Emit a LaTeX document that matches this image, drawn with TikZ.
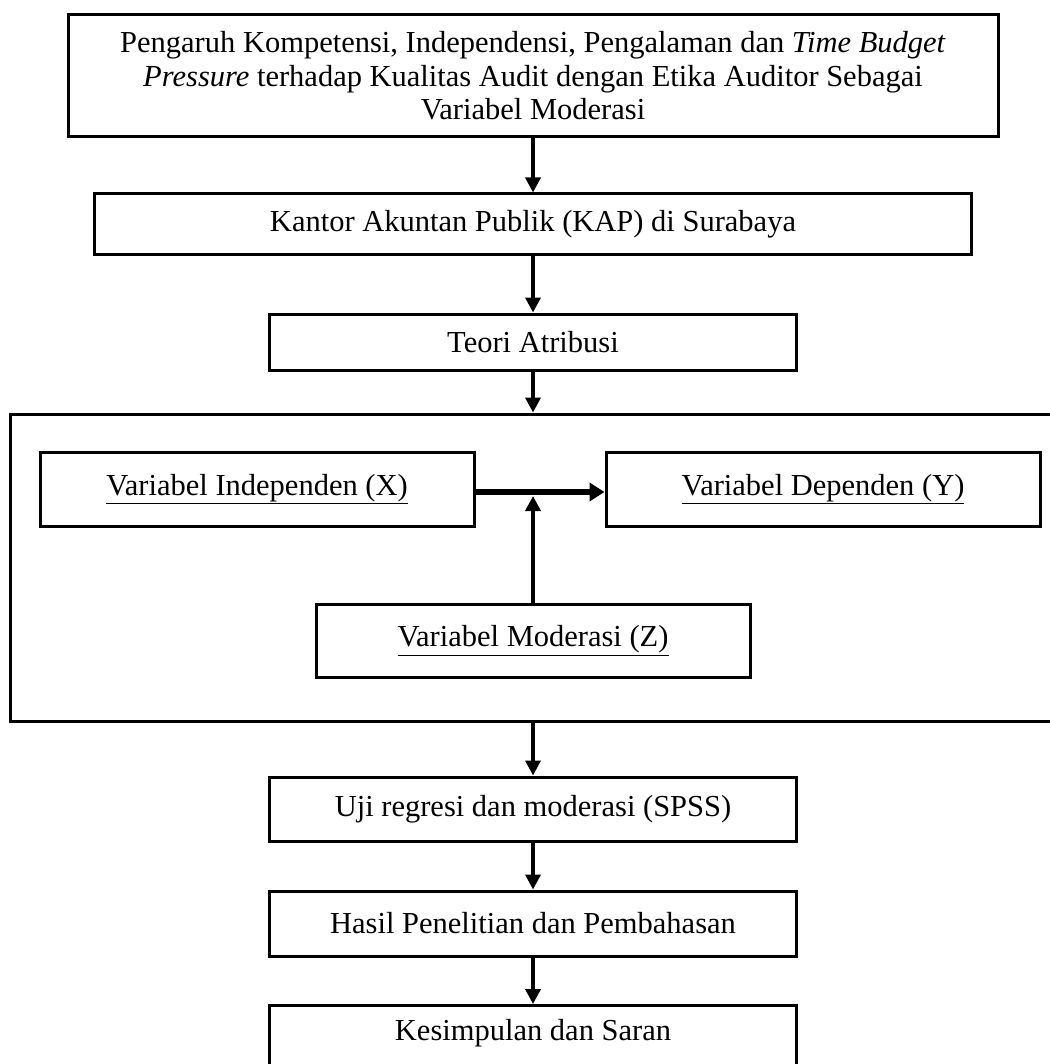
\documentclass[tikz,border=0pt]{standalone}
\usepackage{fontspec}
\setmainfont{Liberation Serif}
\usetikzlibrary{arrows.meta}
\begin{document}
\begin{tikzpicture}[x=1pt,y=-1pt,
  box/.style={draw, line width=3pt, rectangle, inner sep=0pt, align=center,
    font=\fontsize{30.5}{33.5}\selectfont},
  txt/.style={inner sep=0pt, align=center, font=\fontsize{30.5}{33.5}\selectfont},
  flow/.style={line width=3.5pt, -{Triangle[length=15pt,width=15pt]}},
  bigflow/.style={line width=5.5pt, -{Triangle[length=15pt,width=18pt]}},
]
\useasboundingbox (0,0) rectangle (1049,1064);

\node[box, minimum width=930pt, minimum height=122pt] (title) at (533,76)
  {Pengaruh Kompetensi, Independensi, Pengalaman dan \textit{Time Budget}\\
   \textit{Pressure} terhadap Kualitas Audit dengan Etika Auditor Sebagai\\
   Variabel Moderasi};
\node[box, minimum width=877pt, minimum height=61pt] (kap) at (533,224.5)
  {Kantor Akuntan Publik (KAP) di Surabaya};
\node[box, minimum width=527pt, minimum height=56pt] (teori) at (533,342)
  {Teori Atribusi};

\node[draw, line width=3pt, minimum width=1050pt, minimum height=307pt, inner sep=0pt] (frame) at (535,567.5) {};

\node[box, minimum width=434pt, minimum height=74pt] (X) at (257,489)
  {\underline{Variabel Independen (X)}};
\node[box, minimum width=434pt, minimum height=74pt] (Y) at (823,489)
  {\underline{Variabel Dependen (Y)}};
\node[box, minimum width=434pt, minimum height=73pt] (Z) at (533,640.5)
  {\underline{Variabel Moderasi (Z)}};
\coordinate (m) at (533,496);

\node[box, minimum width=527pt, minimum height=64pt] (uji) at (533,809)
  {Uji regresi dan moderasi (SPSS)};
\node[box, minimum width=527pt, minimum height=65pt] (hasil) at (533,923.5)
  {Hasil Penelitian dan Pembahasan};
\node[draw, line width=3pt, minimum width=527pt, minimum height=90pt, inner sep=0pt, anchor=north] (kes) at (533,1004) {};
\node[txt] (kestext) at (533,1033) {Kesimpulan dan Saran};

\draw[flow] (title.south) -- (kap.north);
\draw[flow] (kap.south) -- (teori.north);
\draw[flow] (teori.south) -- (teori.south |- frame.north);
\draw[bigflow] ([yshift=-3pt]X.east) -- ([yshift=-3pt]Y.west);
\draw[flow] (Z.north) -- (m);
\draw[flow] (uji.north |- frame.south) -- (uji.north);
\draw[flow] (uji.south) -- (hasil.north);
\draw[flow] (hasil.south) -- (kes.north);
\end{tikzpicture}
\end{document}
